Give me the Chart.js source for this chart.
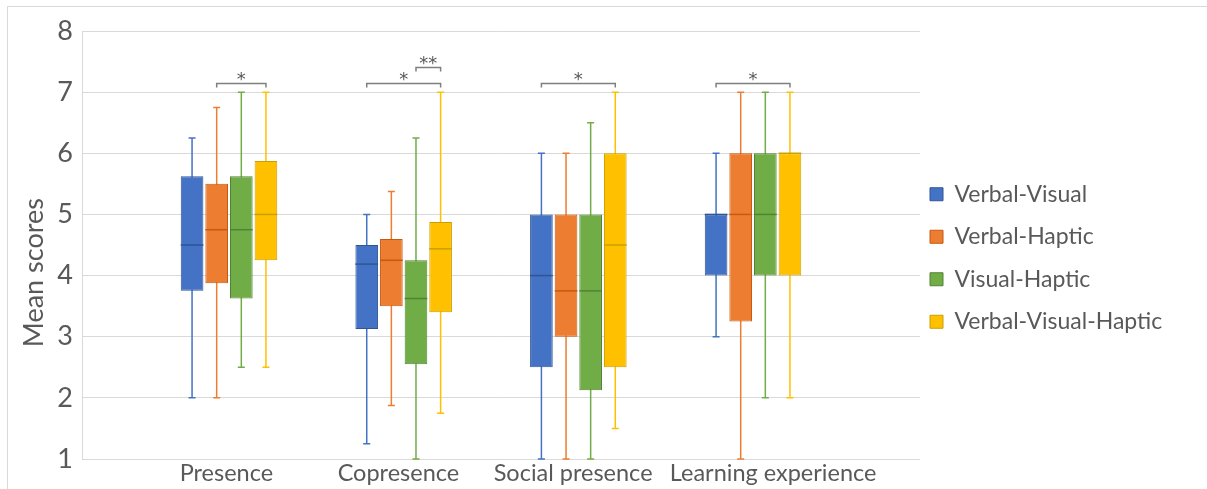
<!DOCTYPE html>
<html>
<head>
<meta charset="utf-8">
<script src="https://cdn.jsdelivr.net/npm/chart.js@4.4.1/dist/chart.umd.min.js"></script>
<style>
  html, body { margin: 0; padding: 0; background: #fff; }
</style>
</head>
<body>
<canvas id="boxChart" width="1207" height="489"></canvas>
<script>
// Data
const categories = ['Presence', 'Copresence', 'Social presence', 'Learning experience'];
const seriesNames = ['Verbal-Visual', 'Verbal-Haptic', 'Visual-Haptic', 'Verbal-Visual-Haptic'];

// one row per series, one value per category
const whiskerMin = [
  [2.0, 1.25, 1.0, 3.0],
  [2.0, 1.875, 1.0, 1.0],
  [2.5, 1.0, 1.0, 2.0],
  [2.5, 1.75, 1.5, 2.0]
];
const q1 = [
  [3.75, 3.125, 2.5, 4.0],
  [3.875, 3.5, 3.0, 3.25],
  [3.625, 2.55, 2.125, 4.0],
  [4.25, 3.4, 2.5, 4.0]
];
const median = [
  [4.5, 4.1875, 4.0, 5.0],
  [4.75, 4.25, 3.75, 5.0],
  [4.75, 3.625, 3.75, 5.0],
  [5.0, 4.4375, 4.5, 6.0]
];
const q3 = [
  [5.625, 4.5, 5.0, 5.0],
  [5.5, 4.6, 5.0, 6.0],
  [5.625, 4.25, 5.0, 6.0],
  [5.875, 4.875, 6.0, 6.0]
];
const whiskerMax = [
  [6.25, 5.0, 6.0, 6.0],
  [6.75, 5.375, 6.0, 7.0],
  [7.0, 6.25, 6.5, 7.0],
  [7.0, 7.0, 7.0, 7.0]
];

// significance marks: category, from series, to series, stars, stacking level
const sigCat   = [0, 1, 1, 2, 3];
const sigFrom  = [1, 0, 2, 0, 0];
const sigTo    = [3, 3, 3, 3, 3];
const sigLabel = ['*', '*', '**', '*', '*'];
const sigLevel = [0, 0, 1, 0, 0];

// styling
const fills   = ['#4472C4', '#ED7D31', '#70AD47', '#FFC000'];
const borders = ['#2F5597', '#C55A11', '#548235', '#C9A000'];
const textGrey = '#595959';
// category labels in the original are not exactly under the group centres
const labelShift = [-0.015, -0.03, -0.03, 0.115];

Chart.defaults.font.family = "Lato, 'Open Sans', sans-serif";
Chart.defaults.color = textGrey;

// whiskers under the boxes, medians and brackets on top
const boxPlotExtras = {
  id: 'boxPlotExtras',
  beforeDraw(chart) {
    const ctx = chart.ctx;
    ctx.save();
    ctx.fillStyle = '#fff';
    ctx.fillRect(0, 0, chart.width, chart.height);
    ctx.strokeStyle = '#d9d9d9';
    ctx.lineWidth = 1;
    ctx.strokeRect(7.5, 6.5, chart.width + 20, chart.height + 20);
    ctx.restore();
  },
  beforeDatasetsDraw(chart) {
    const ctx = chart.ctx, y = chart.scales.y;
    ctx.save();
    ctx.lineWidth = 1.5;
    chart.data.datasets.forEach((ds, i) => {
      ctx.strokeStyle = fills[i];
      chart.getDatasetMeta(i).data.forEach((bar, j) => {
        const yLo = y.getPixelForValue(whiskerMin[i][j]);
        const yHi = y.getPixelForValue(whiskerMax[i][j]);
        ctx.beginPath();
        ctx.moveTo(bar.x, yLo); ctx.lineTo(bar.x, yHi);
        ctx.moveTo(bar.x - 3.5, yLo); ctx.lineTo(bar.x + 3.5, yLo);
        ctx.moveTo(bar.x - 3.5, yHi); ctx.lineTo(bar.x + 3.5, yHi);
        ctx.stroke();
      });
    });
    ctx.restore();
  },
  afterDatasetsDraw(chart) {
    const ctx = chart.ctx, y = chart.scales.y;
    ctx.save();
    ctx.lineWidth = 1.5;
    chart.data.datasets.forEach((ds, i) => {
      ctx.strokeStyle = borders[i];
      chart.getDatasetMeta(i).data.forEach((bar, j) => {
        const ym = y.getPixelForValue(median[i][j]);
        ctx.beginPath();
        ctx.moveTo(bar.x - bar.width / 2, ym);
        ctx.lineTo(bar.x + bar.width / 2, ym);
        ctx.stroke();
      });
    });

    // significance brackets
    ctx.strokeStyle = '#7f7f7f';
    ctx.fillStyle = textGrey;
    ctx.lineWidth = 1.5;
    ctx.font = "18px 'DejaVu Sans', sans-serif";
    ctx.textAlign = 'center';
    ctx.textBaseline = 'middle';
    sigCat.forEach((c, k) => {
      const x1 = chart.getDatasetMeta(sigFrom[k]).data[c].x;
      const x2 = chart.getDatasetMeta(sigTo[k]).data[c].x;
      const yb = Math.round(y.getPixelForValue(7) - 9 - sigLevel[k] * 16) + 0.5;
      ctx.beginPath();
      ctx.moveTo(x1, yb + 4); ctx.lineTo(x1, yb); ctx.lineTo(x2, yb); ctx.lineTo(x2, yb + 4);
      ctx.stroke();
      ctx.fillText(sigLabel[k], (x1 + x2) / 2, yb - 3);
    });
    ctx.restore();
  },
  afterInit(chart) {
    // keep the legend in the strip right of the plot
    const lg = chart.legend;
    const fit = lg.fit, draw = lg.draw;
    lg.fit = function () { fit.call(this); this.width = 287; };
    lg.draw = function () {
      this.ctx.save();
      this.ctx.translate(-9.5, -2);
      draw.apply(this, arguments);
      this.ctx.restore();
    };
  }
};

new Chart(document.getElementById('boxChart'), {
  type: 'bar',
  data: {
    datasets: seriesNames.map((name, i) => ({
      label: name,
      data: categories.map((c, j) => ({ x: j, y: [q1[i][j], q3[i][j]] })),
      backgroundColor: fills[i],
      borderColor: borders[i],
      borderWidth: 1,
      borderSkipped: false,
      categoryPercentage: 0.5725,
      barPercentage: 0.92
    }))
  },
  options: {
    responsive: false,
    animation: false,
    layout: { padding: { top: 31, left: 0, right: 0, bottom: 0 } },
    plugins: {
      tooltip: { enabled: false },
      legend: {
        position: 'right',
        labels: {
          boxWidth: 13,
          boxHeight: 13,
          padding: 19.5,
          color: textGrey,
          font: { size: 23 }
        }
      }
    },
    scales: {
      x: {
        type: 'linear',
        offset: false,
        min: -0.8416,
        max: 3.956,
        afterBuildTicks: s => { s.ticks = categories.map((c, j) => ({ value: j + labelShift[j] })); },
        afterFit: s => { s.height = 30; },
        ticks: {
          autoSkip: false,
          maxRotation: 0,
          padding: 0,
          color: textGrey,
          font: { size: 23.5 },
          callback: (v, idx) => categories[idx]
        },
        grid: { display: false, drawTicks: false },
        border: { display: false }
      },
      y: {
        min: 1,
        max: 8,
        afterFit: s => { s.width = 82; },
        ticks: { stepSize: 1, padding: 9, color: textGrey, font: { size: 27 } },
        grid: { color: '#d9d9d9', drawTicks: false },
        border: { display: true, color: '#d9d9d9' },
        title: {
          display: true,
          text: 'Mean scores' + ' '.repeat(8),
          color: textGrey,
          font: { size: 27 },
          padding: { top: 18, bottom: 0 }
        }
      }
    }
  },
  plugins: [boxPlotExtras]
});
</script>
</body>
</html>
